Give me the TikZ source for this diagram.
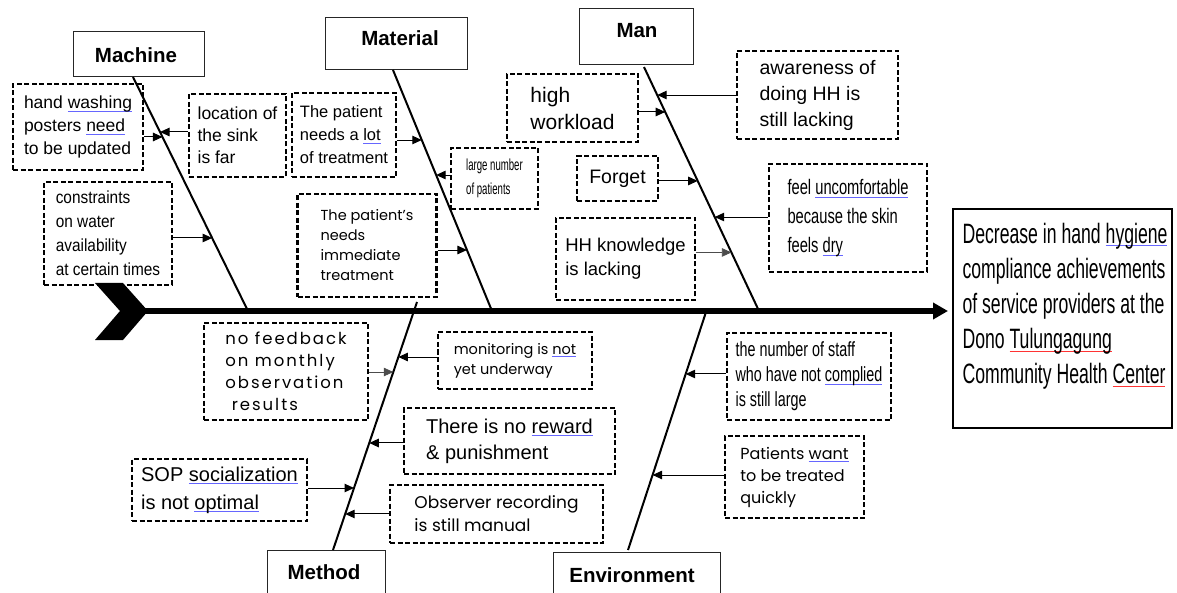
\documentclass[tikz,border=0pt]{standalone}
\usepackage{fontspec}
\setmainfont{Liberation Sans}
\newfontfamily\fpop{Poppins}
\newfontfamily\fpopw{Poppins}[LetterSpace=12]
\newcommand\narf[1]{\fontspec{Liberation Sans}[FakeStretch=#1]}
\newcommand\fz[2]{\fontsize{#1pt}{#2pt}\selectfont}
\newcommand\bu[1]{\setbox0\hbox{#1}\rlap{\color{blue!60}\rule[-3pt]{\wd0}{0.8pt}}\box0}
\newcommand\ru[1]{\setbox0\hbox{#1}\rlap{\color{red!80}\rule[-4pt]{\wd0}{0.8pt}}\box0}
\usetikzlibrary{arrows.meta,calc}
\begin{document}
\begin{tikzpicture}[x=1pt,y=-1pt,
  cause/.style={draw, line width=2.1pt, dash pattern=on 5pt off 2.5pt, align=left, inner sep=0pt},
  catbox/.style={draw=black!85, line width=1pt, inner sep=0pt},
  catlbl/.style={font=\bfseries\fz{20.5}{22}},
  bone/.style={line width=2pt},
  arr/.style={line width=1pt, -{Triangle[length=9.5pt,width=8.5pt]}},
  spine/.style={line width=5.5pt, -{Triangle[length=15pt,width=16pt]}}
]
\fill[white] (0,0) rectangle (1177,593);
\useasboundingbox (0,0) rectangle (1177,593);

% category boxes
\node[catbox, minimum width=131, minimum height=45] (mch) at (138.5,54.5) {};
\node[catlbl] (mchT) at (136,55) {Machine};
\node[catbox, minimum width=142, minimum height=52] (mat) at (396,44) {};
\node[catlbl] (matT) at (400,38) {Material};
\node[catbox, minimum width=114, minimum height=56] (man) at (636,37) {};
\node[catlbl] (manT) at (637,31) {Man};
\node[catbox, minimum width=118, minimum height=55] (mth) at (326,577.5) {};
\node[catlbl] (mthT) at (324,572) {Method};
\node[catbox, minimum width=167, minimum height=53] (env) at (636.5,578.5) {};
\node[catlbl] (envT) at (632,575) {Environment};

% effect
\node[draw, line width=1.6pt, minimum width=219, minimum height=219, inner sep=0pt] (eff) at (1062.5,318.5) {};
\node[align=left, inner sep=0pt, font={\narf{0.63}\fz{28}{35}}] (effT) at (1065,306)
  {Decrease in hand \bu{hygiene}\\compliance achievements\\of service providers at the\\Dono \ru{Tulungagung}\\Community Health \ru{Center}};

% spine
\fill (95,283) -- (123,283) -- (148,311) -- (123,340) -- (95,340) -- (120,311) -- cycle;
\coordinate (tail) at (140,311);
\coordinate (head) at (948,311);
\draw[spine] (tail) -- (head);

% bones
\coordinate (mA) at (133,77);  \coordinate (mB) at (248,311);
\coordinate (aA) at (393,70);  \coordinate (aB) at (492,311);
\coordinate (nA) at (644,67);  \coordinate (nB) at (759,311);
\coordinate (dA) at (333,550); \coordinate (dB) at (417,302);
\coordinate (eA) at (628,550); \coordinate (eB) at (706,312);
\draw[bone] (mA) -- (mB);
\draw[bone] (aA) -- (aB);
\draw[bone] (nA) -- (nB);
\draw[bone] (dA) -- (dB);
\draw[bone] (eA) -- (eB);

% causes
\node[cause, minimum width=130, minimum height=86, font=\fz{17.5}{23}] (c1) at (78,127)
  {hand \bu{washing}\\posters \bu{need}\\to be updated};
\node[cause, minimum width=97, minimum height=83, font=\fz{17.5}{22}] (c2) at (237.5,135.5)
  {location of\\the sink\\is far};
\node[cause, minimum width=128, minimum height=103, font={\narf{0.88}\fz{17.5}{24}}] (c3) at (108,233.5)
  {constraints\\on water\\availability\\at certain times};
\node[cause, minimum width=104, minimum height=84, font=\fz{16.5}{23}] (c4) at (344,135)
  {The patient\\needs a \bu{lot}\\of treatment};
\node[cause, minimum width=87, minimum height=61, font={\narf{0.6}\fz{16}{24}}] (c5) at (494.5,178.5)
  {large number\\of patients};
\node[cause, minimum width=139, minimum height=103, font={\fpop\fz{14.5}{20}}] (c6) at (367,245.5)
  {The patient’s\\needs\\immediate\\treatment};
\node[cause, minimum width=131, minimum height=68, font=\fz{21}{27}] (c7) at (572.5,108)
  {high\\workload};
\node[cause, minimum width=161, minimum height=88, font=\fz{19.5}{26}] (c8) at (817.5,95)
  {awareness of\\doing HH is\\still lacking};
\node[cause, minimum width=81, minimum height=45, font=\fz{19.5}{24}] (c9) at (617.5,178.5)
  {Forget};
\node[cause, minimum width=158, minimum height=108, font={\narf{0.7}\fz{21}{29}}] (c10) at (848,218)
  {feel \bu{uncomfortable}\\because the skin\\feels \bu{dry}};
\node[cause, minimum width=139, minimum height=82, font=\fz{18.5}{24}] (c11) at (625.5,259)
  {HH knowledge\\is lacking};
\node[cause, minimum width=164, minimum height=97, font={\fpopw\fz{16.5}{22}}] (c12) at (286,371.5)
  {no feedback\\on monthly\\observation\\\ results};
\node[cause, minimum width=154, minimum height=57, font={\fpop\fz{14.5}{20}}] (c13) at (515,360.5)
  {monitoring is \bu{not}\\yet underway};
\node[cause, minimum width=211, minimum height=66, font=\fz{20}{26}] (c14) at (509.5,441)
  {There is no \bu{reward}\\\& punishment};
\node[cause, minimum width=175, minimum height=62, font=\fz{20}{28}] (c15) at (219.5,490)
  {SOP \bu{socialization}\\is not \bu{optimal}};
\node[cause, minimum width=213, minimum height=58, font={\fpop\fz{17}{23}}] (c16) at (496.5,514)
  {Observer recording\\is still manual};
\node[cause, minimum width=164, minimum height=87, font={\narf{0.7}\fz{20.5}{25}}] (c17) at (809,376.5)
  {the number of staff\\who have not \bu{complied}\\is still large};
\node[cause, minimum width=139, minimum height=82, font={\fpop\fz{16}{22}}] (c18) at (794.5,477)
  {Patients \bu{want}\\to be treated\\quickly};

% targets on bones
\coordinate (t1) at ($(mA)!0.2564!(mB)$);
\coordinate (t2) at ($(mA)!0.2350!(mB)$);
\coordinate (t3) at ($(mA)!0.6880!(mB)$);
\coordinate (t4) at ($(aA)!0.2905!(aB)$);
\coordinate (t5) at ($(aA)!0.4357!(aB)$);
\coordinate (t6) at ($(aA)!0.7469!(aB)$);
\coordinate (t7) at ($(nA)!0.1844!(nB)$);
\coordinate (t8) at ($(nA)!0.1148!(nB)$);
\coordinate (t9) at ($(nA)!0.4670!(nB)$);
\coordinate (t10) at ($(nA)!0.6148!(nB)$);
\coordinate (t11) at ($(nA)!0.7600!(nB)$);
\coordinate (t12) at ($(dB)!0.2823!(dA)$);
\coordinate (t13) at ($(dB)!0.2218!(dA)$);
\coordinate (t14) at ($(dB)!0.5685!(dA)$);
\coordinate (t15) at ($(dB)!0.7500!(dA)$);
\coordinate (t16) at ($(dB)!0.8548!(dA)$);
\coordinate (t17) at ($(eB)!0.2605!(eA)$);
\coordinate (t18) at ($(eB)!0.6849!(eA)$);

% arrows
\draw[arr] (c1.east |- t1) -- (t1);
\draw[arr] (c2.west |- t2) -- (t2);
\draw[arr] (c3.east |- t3) -- (t3);
\draw[arr] (c4.east |- t4) -- (t4);
\draw[arr] (c5.west |- t5) -- (t5);
\draw[arr] (c6.east |- t6) -- (t6);
\draw[arr] (c7.east |- t7) -- (t7);
\draw[arr] (c8.west |- t8) -- (t8);
\draw[arr] (c9.east |- t9) -- (t9);
\draw[arr] (c10.west |- t10) -- (t10);
\draw[arr, draw=black!70, line width=0.7pt] (c11.east |- t11) -- (t11);
\draw[arr, draw=black!70, line width=0.7pt] (c12.east |- t12) -- (t12);
\draw[arr] (c13.west |- t13) -- (t13);
\draw[arr] (c14.west |- t14) -- (t14);
\draw[arr] (c15.east |- t15) -- (t15);
\draw[arr] (c16.west |- t16) -- (t16);
\draw[arr] (c17.west |- t17) -- (t17);
\draw[arr] (c18.west |- t18) -- (t18);
\end{tikzpicture}
\end{document}
